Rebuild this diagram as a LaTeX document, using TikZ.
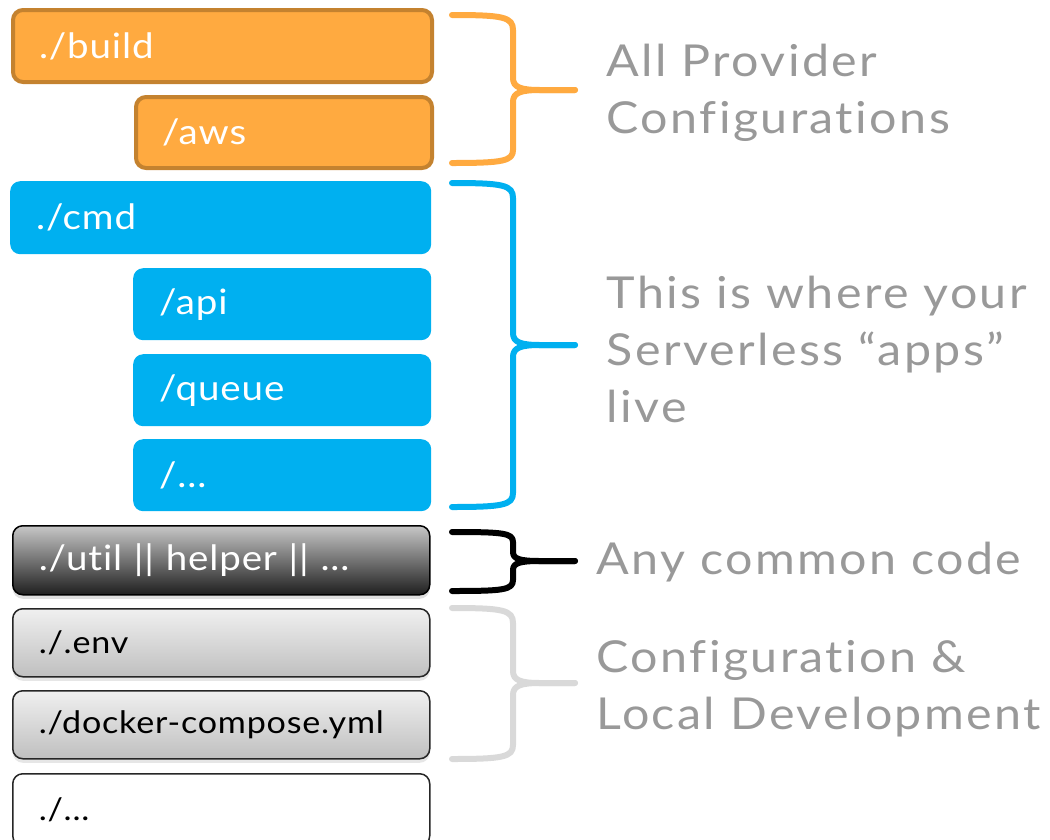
\documentclass[tikz,border=0pt]{standalone}
\usepackage{fontspec}
\setmainfont{Lato}[Ligatures={NoCommon,NoRare,NoDiscretionary}, FakeStretch=1.1, LetterSpace=5.5]
\newfontfamily\boxfont{Lato}[Ligatures={NoCommon,NoRare,NoDiscretionary}, FakeStretch=1.1, LetterSpace=2.5]
\usetikzlibrary{shadows}
\definecolor{orangefill}{HTML}{FFAA40}
\definecolor{orangeedge}{HTML}{C4822F}
\definecolor{bluefill}{HTML}{00B0F0}
\definecolor{labelgray}{HTML}{999999}
\definecolor{bracegray}{HTML}{D9D9D9}
\begin{document}
\begin{tikzpicture}[x=1pt,y=-1pt,
  dirbox/.style={rectangle, rounded corners=10pt, inner xsep=26pt, inner ysep=0pt,
    align=left, anchor=north west, font=\boxfont\fontsize{35}{40}\selectfont},
  orangebox/.style={dirbox, fill=orangefill, draw=orangeedge, line width=4pt, text=white},
  bluebox/.style={dirbox, fill=bluefill, text=white},
  darkbox/.style={dirbox, draw=black, line width=1.5pt, top color=black!22, bottom color=black!88,
    text=white, drop shadow={shadow xshift=0pt, shadow yshift=-4pt, opacity=0.25}},
  lightbox/.style={dirbox, draw=black!85, line width=1.5pt, top color=black!6, bottom color=black!25,
    text=black, font=\boxfont\fontsize{31}{36}\selectfont,
    drop shadow={shadow xshift=0pt, shadow yshift=-4pt, opacity=0.2}},
  plainbox/.style={dirbox, draw=black!85, line width=1.5pt, fill=white, text=black,
    font=\boxfont\fontsize{31}{36}\selectfont},
  brace/.style={line width=6pt, line cap=round, line join=round},
  note/.style={anchor=west, align=left, text=labelgray, font=\fontsize{44}{57}\selectfont}
]
\useasboundingbox (0,0) rectangle (1050,839);

% provider configuration folders
\node[orangebox, text width=367pt, minimum height=72pt] (build) at (11,8) {./build};
\node[orangebox, text width=244pt, minimum height=71pt] (aws) at (134,95) {/aws};

% serverless apps
\node[bluebox, text width=369pt, minimum height=73pt] (cmd) at (10,181) {./cmd};
\node[bluebox, text width=246pt, minimum height=72pt] (api) at (133,268) {/api};
\node[bluebox, text width=246pt, minimum height=72pt] (queue) at (133,354) {/queue};
\node[bluebox, text width=246pt, minimum height=72pt] (more) at (133,439) {/...};

% shared code and local setup
\node[darkbox, text width=365pt, minimum height=69pt] (util) at (12,525) {./util || helper || ...};
\node[lightbox, text width=365pt, minimum height=68pt] (env) at (12,608) {./.env};
\node[lightbox, text width=365pt, minimum height=68pt] (compose) at (12,690) {./docker-compose.yml};
\node[plainbox, text width=365pt, minimum height=72pt] (rest) at (12,773) {./...};

% braces grouping the folders
\draw[brace, orangefill] (452,15) .. controls (503,15) and (513,17) .. (513,30) -- (513,78)
  .. controls (513,87) and (520,90) .. (540,90) -- (575,90);
\draw[brace, orangefill] (575,90) -- (540,90) .. controls (520,90) and (513,93) .. (513,102)
  -- (513,150) .. controls (513,161) and (503,163) .. (452,163);

\draw[brace, bluefill] (452,183) .. controls (503,183) and (513,185) .. (513,198) -- (513,333)
  .. controls (513,342) and (520,345) .. (540,345) -- (575,345);
\draw[brace, bluefill] (575,345) -- (540,345) .. controls (520,345) and (513,348) .. (513,357)
  -- (513,493) .. controls (513,505) and (503,507) .. (452,507);

\draw[brace, black] (452,532) .. controls (503,532) and (513,533) .. (513,542) -- (513,552)
  .. controls (513,559) and (520,561) .. (540,561) -- (575,561);
\draw[brace, black] (575,561) -- (540,561) .. controls (520,561) and (513,563) .. (513,570)
  -- (513,580) .. controls (513,590) and (503,591) .. (452,591);

\draw[brace, bracegray] (452,608) .. controls (503,608) and (513,610) .. (513,623) -- (513,671)
  .. controls (513,680) and (520,683) .. (540,683) -- (575,683);
\draw[brace, bracegray] (575,683) -- (540,683) .. controls (520,683) and (513,686) .. (513,695)
  -- (513,745) .. controls (513,757) and (503,759) .. (452,759);

% descriptions
\node[note] (provider) at (603,93) {All Provider\\Configurations};
\node[note] (apps) at (603,349) {This is where your\\Serverless “apps”\\live};
\node[note] (common) at (593,562) {Any common code};
\node[note] (config) at (593,689) {Configuration \&\\Local Development};
\end{tikzpicture}
\end{document}
